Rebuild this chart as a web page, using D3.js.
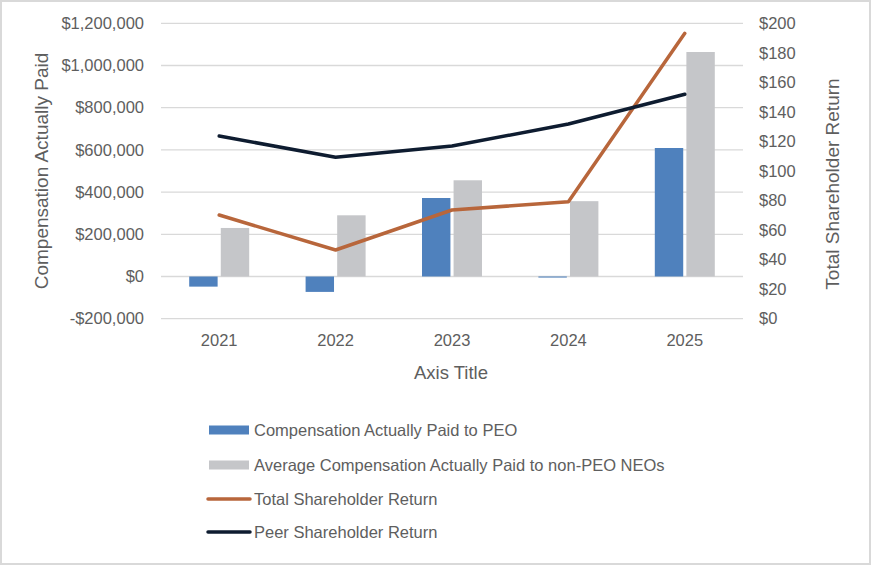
<!DOCTYPE html>
<html>
<head>
<meta charset="utf-8">
<script src="https://cdn.jsdelivr.net/npm/d3@7"></script>
<style>
  html, body { margin: 0; padding: 0; background: #fff; }
  svg text { font-family: "Liberation Sans", Arial, sans-serif; fill: #5e5e5e; }
</style>
</head>
<body>
<svg id="chart" width="871" height="565"></svg>
<script>
// data
const years = ['2021', '2022', '2023', '2024', '2025'];
const peoCap = [-48000, -73000, 372000, -5000, 609000];
const neoCap = [230000, 290000, 456000, 357000, 1064000];
const tsr = [70.2, 46.5, 73.6, 79.2, 193.2];
const peerTsr = [123.7, 109.3, 116.9, 131.8, 152.0];
const leftTicks = [-200000, 0, 200000, 400000, 600000, 800000, 1000000, 1200000];
const rightTicks = [0, 20, 40, 60, 80, 100, 120, 140, 160, 180, 200];

const barSeries = [
    {name: 'Compensation Actually Paid to PEO', values: peoCap, color: '#4f81bd'},
    {name: 'Average Compensation Actually Paid to non-PEO NEOs', values: neoCap, color: '#c5c6c9'}
];
const lineSeries = [
    {name: 'Total Shareholder Return', values: tsr, color: '#b8663b'},
    {name: 'Peer Shareholder Return', values: peerTsr, color: '#0e1c30'}
];

const svg = d3.select('#chart');
const plot = {left: 161, right: 743, top: 23.3, bottom: 318.7};

// outer frame
svg.append('rect')
    .attr('x', 1).attr('y', 1)
    .attr('width', 869).attr('height', 563)
    .attr('fill', '#fff')
    .attr('stroke', '#d9d9d9')
    .attr('stroke-width', 2);

const x0 = d3.scaleBand().domain(years).range([plot.left, plot.right]);
const x1 = d3.scaleBand().domain([0, 1]).range([-30, 30]).paddingInner(0.1);
const yL = d3.scaleLinear().domain([-200000, 1200000]).range([plot.bottom, plot.top]);
const yR = d3.scaleLinear().domain([0, 200]).range([plot.bottom, plot.top]);
const cx = d => x0(d) + x0.bandwidth() / 2;

// grid
svg.append('g')
    .attr('class', 'grid')
    .selectAll('line')
    .data(leftTicks)
    .enter().append('line')
    .attr('x1', plot.left).attr('x2', plot.right)
    .attr('y1', d => yL(d)).attr('y2', d => yL(d))
    .attr('stroke', '#d9d9d9')
    .attr('stroke-width', 1.3);

// left axis
const money = d3.format(',');
const leftAxis = svg.append('g')
    .attr('transform', `translate(${plot.left - 17},0)`)
    .call(d3.axisLeft(yL).tickValues(leftTicks).tickSize(0).tickPadding(0)
        .tickFormat(d => (d < 0 ? '-$' : '$') + money(Math.abs(d))));
leftAxis.select('.domain').remove();
leftAxis.selectAll('text').style('font-size', '16.5px').attr('fill', '#5e5e5e');

// right axis
const rightAxis = svg.append('g')
    .attr('transform', `translate(${plot.right + 16},0)`)
    .call(d3.axisRight(yR).tickValues(rightTicks).tickSize(0).tickPadding(0)
        .tickFormat(d => '$' + d));
rightAxis.select('.domain').remove();
rightAxis.selectAll('text').style('font-size', '16.5px').attr('fill', '#5e5e5e');

// x axis
const xAxis = svg.append('g')
    .attr('transform', `translate(0,${plot.bottom + 16})`)
    .call(d3.axisBottom(x0).tickSize(0).tickPadding(0));
xAxis.select('.domain').remove();
xAxis.selectAll('text').style('font-size', '16.5px').attr('fill', '#5e5e5e').attr('dy', '0.71em');

// axis titles
svg.append('text')
    .attr('transform', 'translate(41,171) rotate(-90)')
    .attr('text-anchor', 'middle')
    .attr('dominant-baseline', 'central')
    .style('font-size', '19px')
    .text('Compensation Actually Paid');

svg.append('text')
    .attr('transform', 'translate(832,184) rotate(-90)')
    .attr('text-anchor', 'middle')
    .attr('dominant-baseline', 'central')
    .style('font-size', '19px')
    .text('Total Shareholder Return');

svg.append('text')
    .attr('x', 451).attr('y', 372)
    .attr('text-anchor', 'middle')
    .attr('dominant-baseline', 'central')
    .style('font-size', '18.5px')
    .text('Axis Title');

// bars
const slice = svg.append('g').attr('class', 'bars')
    .selectAll('.slice')
    .data(barSeries)
    .enter().append('g')
    .attr('class', 'slice');

slice.selectAll('rect')
    .data((s, i) => s.values.map((v, j) => ({year: years[j], value: v, idx: i, color: s.color})))
    .enter().append('rect')
    .attr('x', d => cx(d.year) + x1(d.idx))
    .attr('width', x1.bandwidth())
    .attr('y', d => d.value > 0 ? yL(d.value) : yL(0))
    .attr('height', d => Math.max(Math.abs(yL(d.value) - yL(0)), 1))
    .attr('fill', d => d.color);

// lines on the secondary axis
const line = d3.line()
    .x((d, j) => cx(years[j]))
    .y(d => yR(d));

svg.append('g').attr('class', 'lines')
    .selectAll('path')
    .data(lineSeries)
    .enter().append('path')
    .attr('d', s => line(s.values))
    .attr('fill', 'none')
    .attr('stroke', s => s.color)
    .attr('stroke-width', 3.5)
    .attr('stroke-linejoin', 'round')
    .attr('stroke-linecap', 'round');

// legend
const legendY = [430, 465, 499, 532];
const legendItems = barSeries.map(s => ({...s, type: 'bar'}))
    .concat(lineSeries.map(s => ({...s, type: 'line'})));

const legend = svg.append('g').attr('class', 'legend')
    .selectAll('g')
    .data(legendItems)
    .enter().append('g')
    .attr('transform', (d, i) => `translate(0,${legendY[i]})`);

legend.filter(d => d.type === 'bar').append('rect')
    .attr('x', 209).attr('y', -4.5)
    .attr('width', 40).attr('height', 9)
    .attr('fill', d => d.color);

legend.filter(d => d.type === 'line').append('line')
    .attr('x1', 208).attr('x2', 250)
    .attr('y1', 0).attr('y2', 0)
    .attr('stroke', d => d.color)
    .attr('stroke-width', 3.5)
    .attr('stroke-linecap', 'round');

legend.append('text')
    .attr('x', 254).attr('y', 0)
    .attr('dominant-baseline', 'central')
    .style('font-size', '16.5px')
    .text(d => d.name);
</script>
</body>
</html>
